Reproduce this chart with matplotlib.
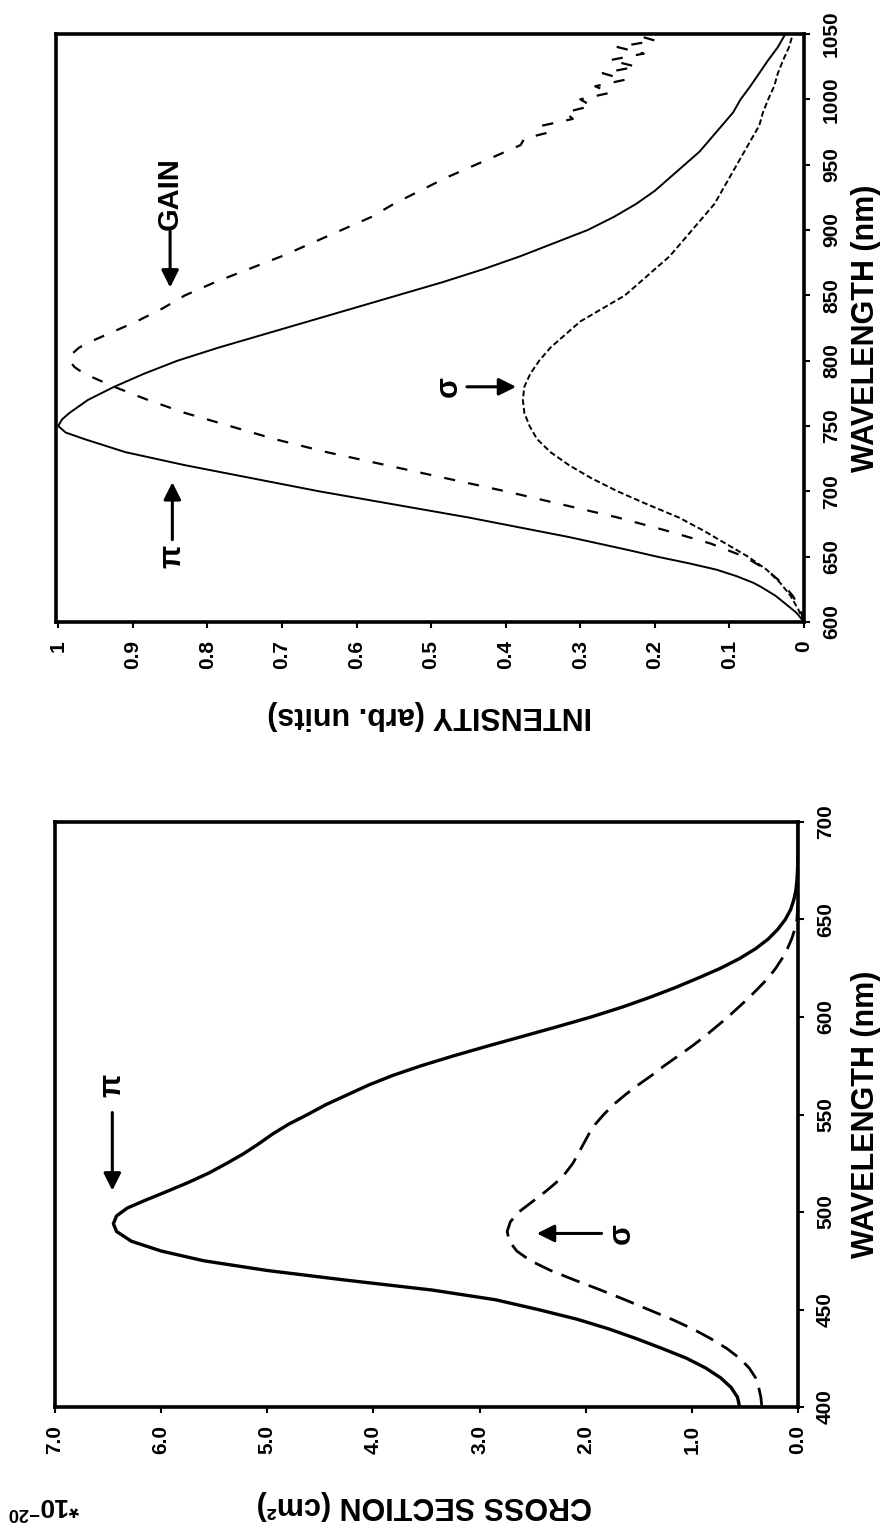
import matplotlib
matplotlib.use("Agg")
import matplotlib.pyplot as plt

plt.rcParams['font.family'] = ['Liberation Sans', 'DejaVu Sans']
plt.rcParams['font.weight'] = 'bold'
plt.rcParams['mathtext.default'] = 'regular'

# --- top panel: emission / gain spectra (wavelength nm, intensity arb. units)
pi_em_wl = [600, 607, 614, 620, 627, 630, 635, 640, 645, 650, 655, 660, 665, 670, 680, 690,
            700, 710, 720, 730, 740, 745, 750, 755, 760, 770, 780, 790, 800, 810, 820, 830,
            840, 850, 860, 870, 880, 890, 900, 910, 920, 930, 940, 950, 960, 970, 980, 990,
            1000, 1010, 1020, 1030, 1040, 1050]
pi_em = [0.0, 0.01, 0.025, 0.038, 0.058, 0.068, 0.09, 0.117, 0.155, 0.197, 0.235, 0.275, 0.315, 0.36, 0.45, 0.55,
         0.65, 0.74, 0.83, 0.91, 0.965, 0.99, 1.0, 0.995, 0.985, 0.96, 0.925, 0.885, 0.84, 0.785, 0.725, 0.665,
         0.605, 0.545, 0.485, 0.43, 0.38, 0.335, 0.29, 0.255, 0.225, 0.20, 0.18, 0.16, 0.14, 0.125, 0.11, 0.095,
         0.085, 0.072, 0.06, 0.048, 0.035, 0.025]

gain_wl = [600, 610, 620, 630, 640, 650, 660, 670, 680, 690, 700, 710, 720, 730, 740, 750,
           760, 770, 780, 785, 790, 795, 800, 805, 810, 815, 820, 830, 840, 850, 860, 870,
           880, 890, 900, 910, 920, 930, 940, 950, 960, 965, 970, 975, 980, 985, 990, 995,
           1000, 1005, 1010, 1015, 1020, 1025, 1030, 1035, 1040, 1045, 1050]
gain = [0.0, 0.005, 0.015, 0.03, 0.05, 0.08, 0.125, 0.185, 0.25, 0.325, 0.40, 0.48, 0.56, 0.64, 0.71, 0.77,
        0.83, 0.88, 0.925, 0.945, 0.965, 0.978, 0.985, 0.982, 0.972, 0.955, 0.935, 0.895, 0.86, 0.83, 0.79, 0.745,
        0.70, 0.66, 0.62, 0.58, 0.55, 0.515, 0.48, 0.44, 0.40, 0.38, 0.375, 0.34, 0.35, 0.31, 0.32, 0.285,
        0.30, 0.26, 0.28, 0.24, 0.27, 0.225, 0.26, 0.215, 0.25, 0.2, 0.23]

sigma_em_wl = [600, 610, 620, 630, 640, 650, 660, 670, 680, 690, 700, 710, 720, 730, 740, 750,
               760, 770, 780, 790, 800, 810, 820, 830, 840, 850, 860, 870, 880, 890, 900, 910,
               920, 930, 940, 950, 960, 970, 980, 990, 1000, 1010, 1020, 1030, 1040, 1050]
sigma_em = [0.0, 0.008, 0.018, 0.032, 0.05, 0.075, 0.105, 0.135, 0.168, 0.21, 0.25, 0.285, 0.315, 0.34, 0.358, 0.368,
            0.375, 0.377, 0.375, 0.367, 0.355, 0.34, 0.32, 0.30, 0.27, 0.24, 0.22, 0.20, 0.18, 0.165, 0.15, 0.135,
            0.12, 0.11, 0.10, 0.09, 0.08, 0.07, 0.06, 0.055, 0.048, 0.04, 0.035, 0.028, 0.02, 0.015]

# --- bottom panel: absorption cross sections (wavelength nm, 1e-20 cm^2)
abs_wl_pi = [400, 405, 410, 415, 420, 425, 430, 435, 440, 445, 450, 455, 460, 465, 470, 475,
             480, 485, 490, 494, 498, 502, 506, 510, 515, 520, 525, 530, 535, 540, 545, 550,
             555, 560, 565, 570, 575, 580, 585, 590, 595, 600, 605, 610, 615, 620, 625, 630,
             635, 640, 645, 650, 655, 660, 665, 670, 680, 700]
pi_abs = [0.55, 0.57, 0.63, 0.73, 0.87, 1.05, 1.28, 1.52, 1.78, 2.08, 2.45, 2.85, 3.45, 4.25, 5.0, 5.6,
          6.0, 6.28, 6.42, 6.45, 6.42, 6.32, 6.15, 5.97, 5.75, 5.55, 5.38, 5.22, 5.08, 4.95, 4.8, 4.62,
          4.45, 4.25, 4.05, 3.82, 3.55, 3.25, 2.93, 2.6, 2.27, 1.95, 1.66, 1.4, 1.16, 0.94, 0.73, 0.55,
          0.4, 0.28, 0.19, 0.12, 0.07, 0.04, 0.02, 0.01, 0.0, 0.0]
abs_wl_sigma = [400, 405, 410, 415, 420, 425, 430, 435, 440, 445, 450, 455, 460, 465, 470, 475,
                480, 485, 490, 495, 500, 505, 510, 515, 520, 525, 530, 535, 540, 545, 550, 555,
                560, 565, 570, 575, 580, 585, 590, 595, 600, 605, 610, 615, 620, 625, 630, 635,
                640, 645, 650, 660]
sigma_abs = [0.34, 0.35, 0.37, 0.40, 0.46, 0.55, 0.67, 0.82, 0.99, 1.19, 1.41, 1.63, 1.86, 2.1, 2.33, 2.52,
             2.65, 2.72, 2.74, 2.71, 2.63, 2.51, 2.39, 2.28, 2.19, 2.12, 2.07, 2.02, 1.97, 1.91, 1.83, 1.74,
             1.63, 1.51, 1.38, 1.26, 1.13, 1.0, 0.88, 0.77, 0.66, 0.56, 0.46, 0.37, 0.28, 0.21, 0.15, 0.1,
             0.06, 0.03, 0.01, 0.0]

int_ticks = [1.0, 0.9, 0.8, 0.7, 0.6, 0.5, 0.4, 0.3, 0.2, 0.1, 0.0]
int_labels = ['1', '0.9', '0.8', '0.7', '0.6', '0.5', '0.4', '0.3', '0.2', '0.1', '0']
em_ticks = [600, 650, 700, 750, 800, 850, 900, 950, 1000, 1050]
cs_ticks = [7, 6, 5, 4, 3, 2, 1, 0]
cs_labels = ['7.0', '6.0', '5.0', '4.0', '3.0', '2.0', '1.0', '0.0']
abs_ticks = [400, 450, 500, 550, 600, 650, 700]

W, H = 883, 1532
fig = plt.figure(figsize=(W / 100, H / 100), dpi=100)


def box(l, t, r, b):
    return [l / W, 1 - b / H, (r - l) / W, (b - t) / H]


ax1 = fig.add_axes(box(56, 34, 804, 622))
ax2 = fig.add_axes(box(55, 822, 798, 1407))

# top panel
ax1.plot(pi_em, pi_em_wl, color='k', lw=1.4)
ax1.plot(gain, gain_wl, color='k', lw=1.6, dashes=(5, 6))
ax1.plot(sigma_em, sigma_em_wl, color='k', lw=1.4, dashes=(3, 1.5))
ax1.set_xlim(1.003, 0.0)
ax1.set_ylim(600, 1050)
ax1.set_xticks(int_ticks)
ax1.set_xticklabels(int_labels)
ax1.set_yticks(em_ticks)

# bottom panel
ax2.plot(pi_abs, abs_wl_pi, color='k', lw=2.4)
ax2.plot(sigma_abs, abs_wl_sigma, color='k', lw=2.0, dashes=(7, 3.5))
ax2.set_xlim(7.0, 0.0)
ax2.set_ylim(400, 700)
ax2.set_xticks(cs_ticks)
ax2.set_xticklabels(cs_labels)
ax2.set_yticks(abs_ticks)

for ax in (ax1, ax2):
    for s in ax.spines.values():
        s.set_linewidth(2.6)
    ax.yaxis.tick_right()
    ax.tick_params(direction='out', length=4, width=1.5, labelsize=15, pad=9)
    for lab in ax.get_xticklabels():
        lab.set_rotation(90)
        lab.set_ha('center')
        lab.set_va('top')
    for lab in ax.get_yticklabels():
        lab.set_rotation(90)
        lab.set_ha('left')
        lab.set_va('center')

arrow = dict(arrowstyle='-|>', color='k', lw=2.2, mutation_scale=26, shrinkA=0, shrinkB=0)

# annotations, top
ax1.text(0.85, 928, 'GAIN', rotation=90, ha='center', va='center', fontsize=21)
ax1.annotate('', xy=(0.85, 856), xytext=(0.85, 899), arrowprops=arrow)
ax1.annotate('', xy=(0.847, 707), xytext=(0.847, 663), arrowprops=arrow)
ax1.text(0.847, 650, 'π', rotation=90, ha='center', va='center', fontsize=22)
ax1.annotate('', xy=(0.386, 780), xytext=(0.452, 780), arrowprops=arrow)
ax1.text(0.476, 780, 'σ', rotation=90, ha='center', va='center', fontsize=22)

# annotations, bottom
ax2.text(6.46, 565, 'π', rotation=90, ha='center', va='center', fontsize=22)
ax2.annotate('', xy=(6.46, 511), xytext=(6.46, 551), arrowprops=arrow)
ax2.annotate('', xy=(2.46, 489), xytext=(1.85, 489), arrowprops=arrow)
ax2.text(1.66, 489, 'σ', rotation=90, ha='center', va='center', fontsize=22)

# axis titles (the whole figure is turned by 90 degrees)
fig.text(866 / W, 1 - 328 / H, 'WAVELENGTH (nm)', rotation=90, ha='center', va='center', fontsize=22)
fig.text(866 / W, 1 - 1114 / H, 'WAVELENGTH (nm)', rotation=90, ha='center', va='center', fontsize=22)
fig.text(430 / W, 1 - 715 / H, 'INTENSITY (arb. units)', rotation=180, ha='center', va='center', fontsize=22)
fig.text(424 / W, 1 - 1505 / H, 'CROSS SECTION (cm²)', rotation=180, ha='center', va='center', fontsize=22)
fig.text(44 / W, 1 - 1505 / H, r'*10$^{-20}$', rotation=180, ha='center', va='center', fontsize=19)

fig.savefig('out.png', dpi=100)
